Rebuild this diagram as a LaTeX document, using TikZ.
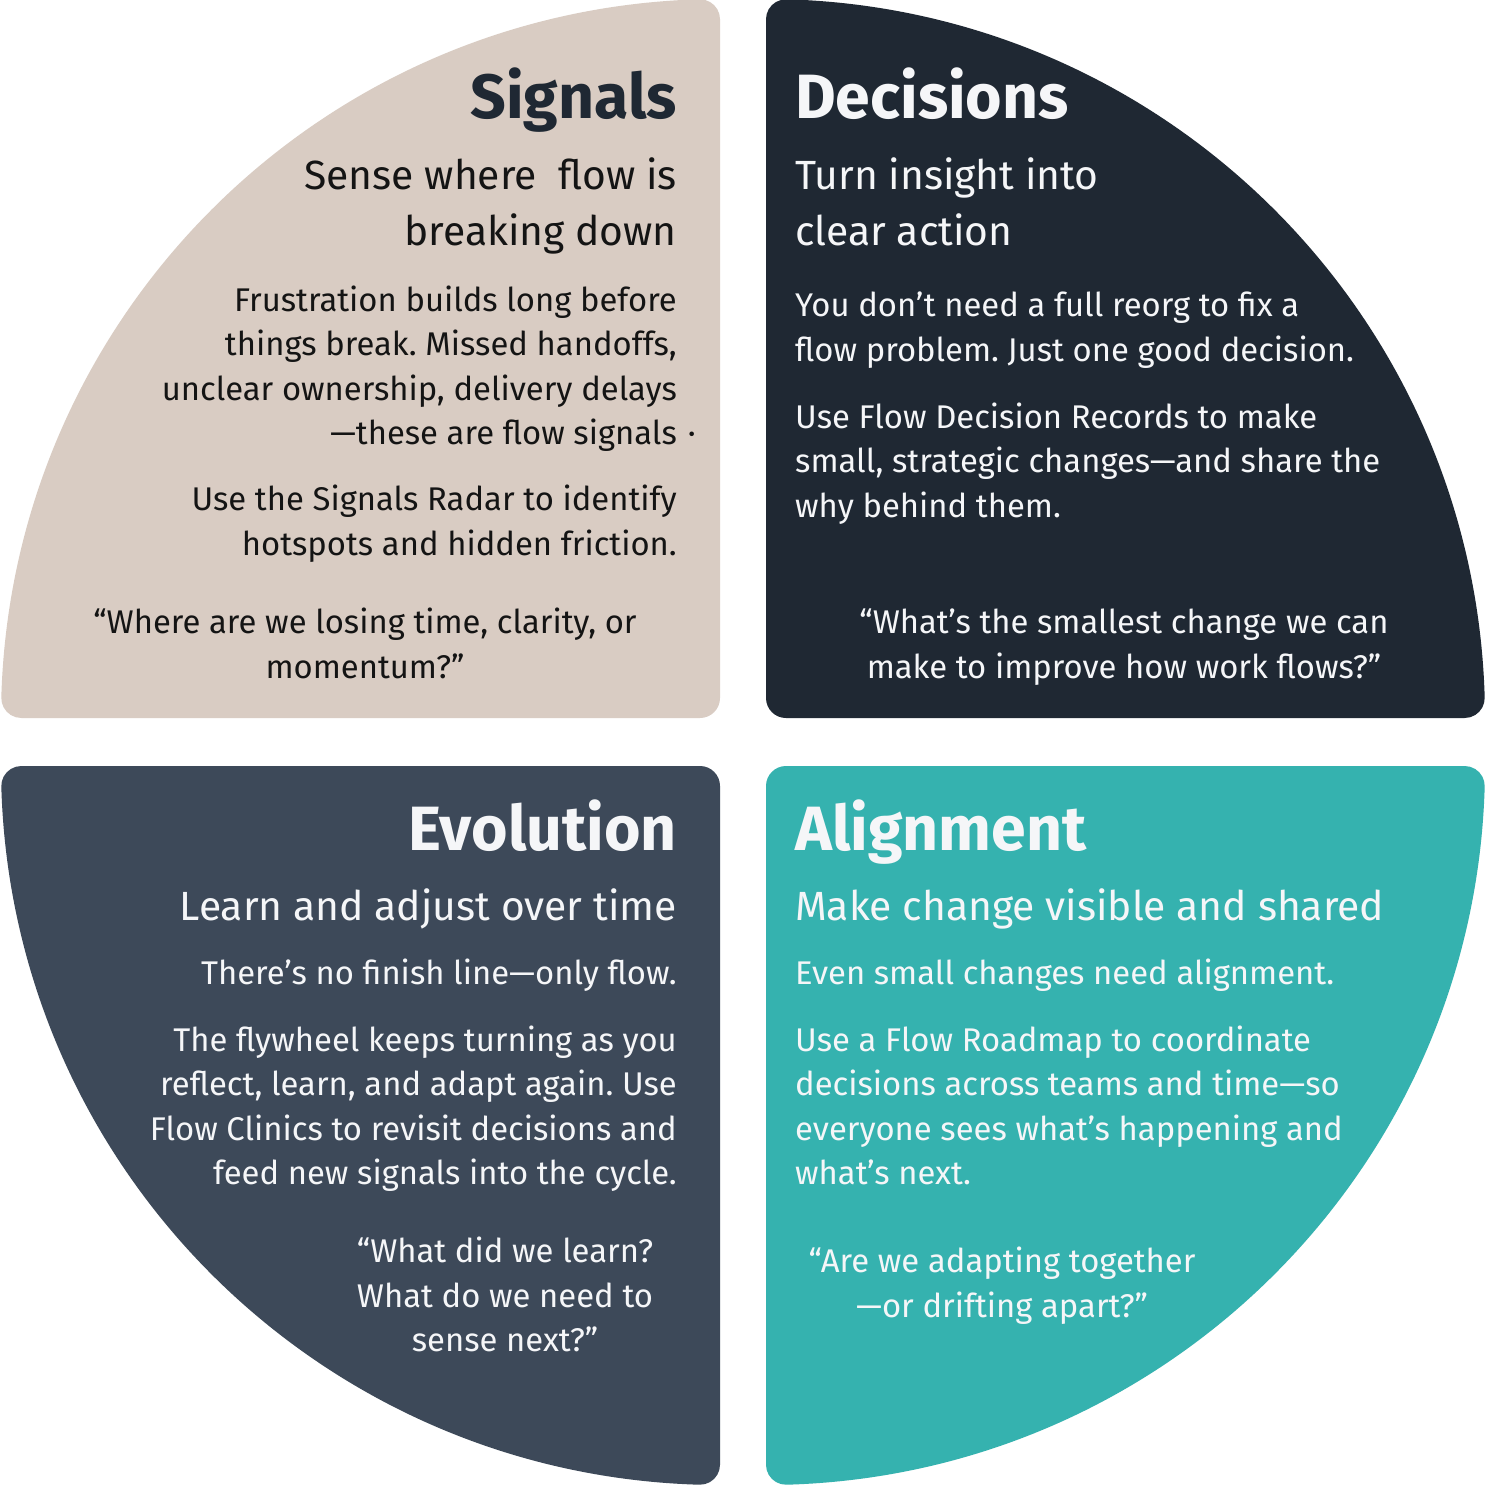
\documentclass[tikz,border=0pt]{standalone}
\usepackage{fontspec}
\setmainfont{Fira Sans}
\frenchspacing

\definecolor{sandfill}{HTML}{D9CCC3}
\definecolor{navyfill}{HTML}{1F2833}
\definecolor{slatefill}{HTML}{3D4959}
\definecolor{tealfill}{HTML}{35B2AF}
\definecolor{paper}{HTML}{F5F6F8}
\definecolor{sandink}{HTML}{141414}

\newlength\wtest

% one quarter disc, corner at the origin, opening up and to the left;
% outer radius 719, all three corners filleted with radius 20
\newcommand\petal{%
  (-698.71,0) -- (-20,0) arc[start angle=90,end angle=0,radius=20]
  -- (0,-698.71) arc[start angle=0,end angle=-91.64,radius=20]
  arc[start angle=-91.64,end angle=-178.36,radius=719]
  arc[start angle=-178.36,end angle=-270,radius=20] -- cycle}

\begin{document}
% font sizes fitted to the line widths of the layout
\settowidth\wtest{\fontsize{50pt}{50pt}\selectfont\bfseries SignalsDecisionsEvolutionAlignment}
\pgfmathsetmacro\headsize{1040/\wtest*50}
\settowidth\wtest{\fontsize{50pt}{50pt}\selectfont Sense where\ \ flow isTurn insight intoLearn and adjust over timeMake change visible and shared}
\pgfmathsetmacro\subsize{1762/\wtest*50}
\settowidth\wtest{\fontsize{50pt}{50pt}\selectfont Frustration builds long beforeunclear ownership, delivery delayssmall, strategic changes—and share theFlow Clinics to revisit decisions andeveryone sees what’s happening and}
\pgfmathsetmacro\bodysize{2617/\wtest*50}
\begin{tikzpicture}[x=1pt,y=-1pt,
  headtxt/.style={inner sep=0pt, font=\fontsize{\headsize pt}{\headsize pt}\selectfont\bfseries},
  subtxt/.style={inner sep=0pt, font=\fontsize{\subsize pt}{56pt}\selectfont},
  bodytxt/.style={inner sep=0pt, font=\fontsize{\bodysize pt}{44pt}\selectfont},
  rightcol/.style={anchor=base east},
  leftcol/.style={anchor=base west},
  quotecol/.style={anchor=base}]

\useasboundingbox (0,0) rectangle (1500,1500);
\fill[white] (0,0) rectangle (1500,1500);

% the four quarters
\fill[sandfill, shift={(720,718)}] \petal;
\fill[navyfill, shift={(766,718)}, xscale=-1] \petal;
\fill[slatefill, shift={(720,766)}, yscale=-1] \petal;
\fill[tealfill, shift={(766,766)}, xscale=-1, yscale=-1] \petal;

% ---------- Signals ----------
\begin{scope}[text=sandink]
\node[headtxt, rightcol, text=navyfill] (sig-head) at (677,118) {Signals};
\node[subtxt, rightcol] (sig-sub1) at (677,189) {Sense where\ \ flow is};
\node[subtxt, rightcol] (sig-sub2) at (677,245) {breaking down};
\node[bodytxt, rightcol] (sig-b1) at (677,311) {Frustration builds long before};
\node[bodytxt, rightcol] (sig-b2) at (677,355) {things break. Missed handoffs,};
\node[bodytxt, rightcol] (sig-b3) at (677,400) {unclear ownership, delivery delays};
\node[bodytxt, rightcol] (sig-b4) at (677,444) {—these are flow signals\rlap{\hspace{11pt}·}};
\node[bodytxt, rightcol] (sig-b5) at (677,510) {Use the Signals Radar to identify};
\node[bodytxt, rightcol] (sig-b6) at (677,555) {hotspots and hidden friction.};
\node[bodytxt, quotecol] (sig-q1) at (365,633) {“Where are we losing time, clarity, or};
\node[bodytxt, quotecol] (sig-q2) at (365,678) {momentum?”};
\end{scope}

% ---------- Decisions ----------
\begin{scope}[text=paper]
\node[headtxt, leftcol] (dec-head) at (795,118) {Decisions};
\node[subtxt, leftcol] (dec-sub1) at (795,189) {Turn insight into};
\node[subtxt, leftcol] (dec-sub2) at (795,245) {clear action};
\node[bodytxt, leftcol] (dec-b1) at (795,316) {You don’t need a full reorg to fix a};
\node[bodytxt, leftcol] (dec-b2) at (795,361) {flow problem. Just one good decision.};
\node[bodytxt, leftcol] (dec-b3) at (795,428) {Use Flow Decision Records to make};
\node[bodytxt, leftcol] (dec-b4) at (795,472) {small, strategic changes—and share the};
\node[bodytxt, leftcol] (dec-b5) at (795,517) {why behind them.};
\node[bodytxt, quotecol] (dec-q1) at (1124,633) {“What’s the smallest change we can};
\node[bodytxt, quotecol] (dec-q2) at (1124,678) {make to improve how work flows?”};
\end{scope}

% ---------- Evolution ----------
\begin{scope}[text=paper]
\node[headtxt, rightcol] (evo-head) at (677,850) {Evolution};
\node[subtxt, rightcol] (evo-sub1) at (677,920) {Learn and adjust over time};
\node[bodytxt, rightcol] (evo-b1) at (677,984) {There’s no finish line—only flow.};
\node[bodytxt, rightcol] (evo-b2) at (677,1051) {The flywheel keeps turning as you};
\node[bodytxt, rightcol] (evo-b3) at (677,1095) {reflect, learn, and adapt again. Use};
\node[bodytxt, rightcol] (evo-b4) at (677,1140) {Flow Clinics to revisit decisions and};
\node[bodytxt, rightcol] (evo-b5) at (677,1184) {feed new signals into the cycle.};
\node[bodytxt, quotecol] (evo-q1) at (505,1262) {“What did we learn?};
\node[bodytxt, quotecol] (evo-q2) at (505,1307) {What do we need to};
\node[bodytxt, quotecol] (evo-q3) at (505,1351) {sense next?”};
\end{scope}

% ---------- Alignment ----------
\begin{scope}[text=paper]
\node[headtxt, leftcol] (ali-head) at (795,850) {Alignment};
\node[subtxt, leftcol] (ali-sub1) at (795,920) {Make change visible and shared};
\node[bodytxt, leftcol] (ali-b1) at (795,984) {Even small changes need alignment.};
\node[bodytxt, leftcol] (ali-b2) at (795,1051) {Use a Flow Roadmap to coordinate};
\node[bodytxt, leftcol] (ali-b3) at (795,1095) {decisions across teams and time—so};
\node[bodytxt, leftcol] (ali-b4) at (795,1140) {everyone sees what’s happening and};
\node[bodytxt, leftcol] (ali-b5) at (795,1184) {what’s next.};
\node[bodytxt, quotecol] (ali-q1) at (1002,1272) {“Are we adapting together};
\node[bodytxt, quotecol] (ali-q2) at (1002,1317) {—or drifting apart?”};
\end{scope}
\end{tikzpicture}
\end{document}
